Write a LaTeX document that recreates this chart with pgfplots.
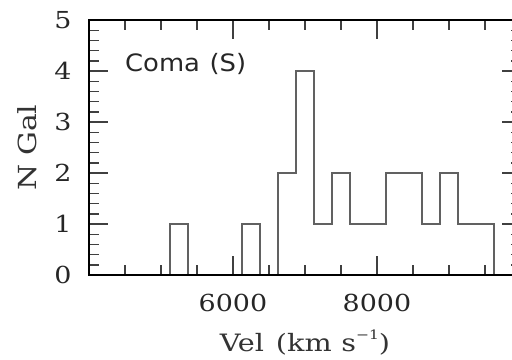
\documentclass[border=0pt]{standalone}
\usepackage{fontspec}
\setmainfont{DejaVu Serif}
\newfontfamily\tickfont{DejaVu Serif}[FakeStretch=1.15]
\newfontfamily\labelfont{DejaVu Serif}[FakeStretch=1.2]
\newfontfamily\comafont{DejaVu Sans}[FakeStretch=1.08]
\usepackage{pgfplots}
\pgfplotsset{compat=1.18}
\begin{document}
\begin{tikzpicture}
% the frame runs to 10000 km/s, just past the right edge of the page
\useasboundingbox (0bp,0bp) rectangle (512bp,360bp);
\clip (0bp,0bp) rectangle (512bp,360bp);
\begin{axis}[
  at={(89bp,85bp)}, anchor=south west,
  scale only axis, width=432bp, height=255bp,
  xmin=4000, xmax=10000, ymin=0, ymax=5,
  scaled x ticks=false,
  xtick={4000,6000,8000,10000}, xticklabels={,6000,8000,},
  minor x tick num=3,
  ytick={0,1,2,3,4,5}, minor y tick num=4,
  tick align=inside,
  major tick length=19bp, minor tick length=10bp,
  every tick/.style={black!75, line width=1.4bp},
  axis line style={black, line width=1.6bp},
  axis on top,
  /pgf/number format/1000 sep={},
  /pgf/number format/assume math mode=true,
  xticklabel style={font=\tickfont\fontsize{23.5}{28}\selectfont, text=black!85, anchor=center, yshift=-28bp},
  yticklabel style={font=\tickfont\fontsize{23.5}{28}\selectfont, text=black!85, anchor=center, xshift=-26bp},
  every axis x label/.style={at={(axis description cs:0.5,0)}, anchor=center, yshift=-68bp,
    font=\labelfont\fontsize{24}{28}\selectfont, text=black!80},
  every axis y label/.style={at={(axis description cs:0,0.5)}, xshift=-62bp, anchor=center, rotate=90,
    font=\labelfont\fontsize{25}{28}\selectfont, text=black!80},
  xlabel={Vel\hspace{0.5em}(km\hspace{0.4em}s\raisebox{0.5em}{\fontsize{13}{13}\selectfont\char"2212 1})},
  ylabel={N\hspace{0.35em}Gal},
]
% velocity histogram, 250 km/s bins
\addplot[const plot mark left, black!62, line width=1.3bp] coordinates {
  (5125,0) (5125,1) (5375,0) (6125,1) (6375,0) (6625,2) (6875,4) (7125,1)
  (7375,2) (7625,1) (7875,1) (8125,2) (8375,2) (8625,1) (8875,2) (9125,1)
  (9375,1) (9625,0)
};
\node[anchor=west, inner sep=0pt, font=\comafont\fontsize{24}{28}\selectfont, text=black!85]
  at (axis cs:4500,4.14) {Coma\hspace{0.4em}(S)};
\end{axis}
\end{tikzpicture}
\end{document}
